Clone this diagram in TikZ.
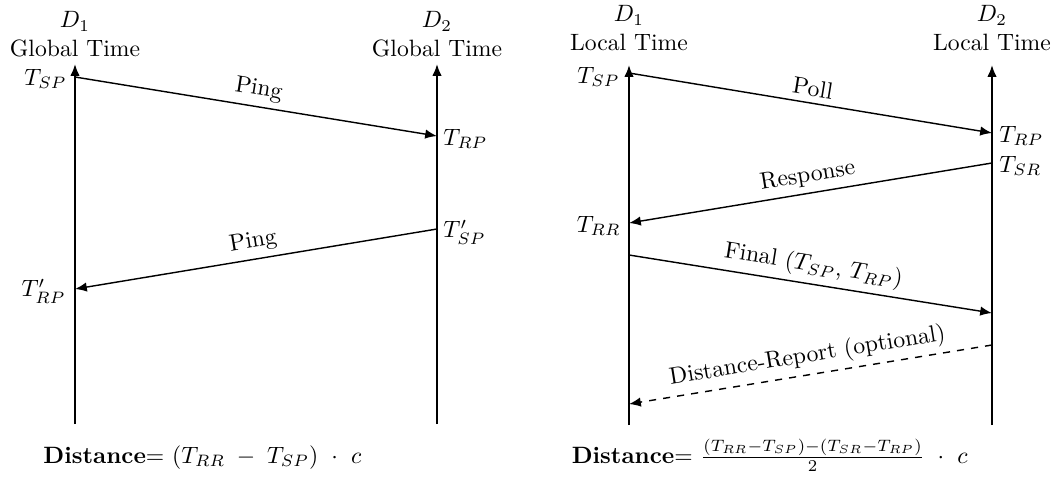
\documentclass[tikz,border=0pt]{standalone}
\usetikzlibrary{arrows.meta}
\begin{document}
\begin{tikzpicture}[x=0.42315pt,y=0.42315pt,
  axisline/.style={line width=0.8pt,-{Latex[length=5pt,width=4pt]}},
  msg/.style={line width=0.6pt,-{Latex[length=5pt,width=4pt]}},
  msglbl/.style={midway,sloped,above,inner sep=2.5pt},
  tlbl/.style={inner sep=0pt},
  headlbl/.style={align=center,inner sep=0pt,anchor=south}]
\useasboundingbox (0,0) rectangle (1054,-500);
% ---------- left panel ----------
\coordinate (L1b) at (75,-424);
\coordinate (L1t) at (75,-64);
\coordinate (L2b) at (437,-424);
\coordinate (L2t) at (437,-64);
\coordinate (lsp) at (75,-77);
\coordinate (lrp) at (437,-136);
\coordinate (lsp2) at (437,-229);
\coordinate (lrp2) at (75,-289);
\draw[axisline] (L1b) -- (L1t);
\draw[axisline] (L2b) -- (L2t);
\node[headlbl] (hL1) at (75,-57) {$D_1$\\Global Time};
\node[headlbl] (hL2) at (437,-57) {$D_2$\\Global Time};
\draw[msg] (lsp) -- node[msglbl] (p1) {Ping} (lrp);
\draw[msg] (lsp2) -- node[msglbl] (p2) {Ping} (lrp2);
\node[tlbl,anchor=east] (tlsp) at (67,-79) {$T_{SP}$};
\node[tlbl,anchor=west] (tlrp) at (443,-139) {$T_{RP}$};
\node[tlbl,anchor=west] (tlsp2) at (443,-232) {$T'_{SP}$};
\node[tlbl,anchor=east] (tlrp2) at (66,-291) {$T'_{RP}$};
\node[anchor=base west,inner sep=0pt] (fl) at (43,-463) {\textbf{Distance}= $(T_{RR}\;-\;T_{SP})\ \cdot\ c$};
% ---------- right panel ----------
\coordinate (R1b) at (629,-425);
\coordinate (R1t) at (629,-65);
\coordinate (R2b) at (992,-425);
\coordinate (R2t) at (992,-65);
\coordinate (rsp) at (629,-73);
\coordinate (rrp) at (992,-133);
\coordinate (rsr) at (992,-163);
\coordinate (rrr) at (629,-223);
\coordinate (rf0) at (629,-255);
\coordinate (rf1) at (992,-313);
\coordinate (rd0) at (992,-345);
\coordinate (rd1) at (629,-404);
\draw[axisline] (R1b) -- (R1t);
\draw[axisline] (R2b) -- (R2t);
\node[headlbl] (hR1) at (629,-51) {$D_1$\\Local Time};
\node[headlbl] (hR2) at (992,-51) {$D_2$\\Local Time};
\draw[msg] (rsp) -- node[msglbl] (m1) {Poll} (rrp);
\draw[msg] (rsr) -- node[msglbl] (m2) {Response} (rrr);
\draw[msg] (rf0) -- node[msglbl] (m3) {Final ($T_{SP}$, $T_{RP}$)} (rf1);
\draw[msg,dashed] (rd0) -- node[msglbl] (m4) {Distance-Report (optional)} (rd1);
\node[tlbl,anchor=east] (trsp) at (620,-77) {$T_{SP}$};
\node[tlbl,anchor=west] (trrp) at (999,-136) {$T_{RP}$};
\node[tlbl,anchor=west] (trsr) at (999,-166) {$T_{SR}$};
\node[tlbl,anchor=east] (trrr) at (621,-226) {$T_{RR}$};
\node[anchor=base east,inner sep=0pt] (fr) at (968,-463) {\textbf{Distance}= $\frac{(T_{RR}-T_{SP})-(T_{SR}-T_{RP})}{2}\ \cdot\ c$};
\end{tikzpicture}
\end{document}
